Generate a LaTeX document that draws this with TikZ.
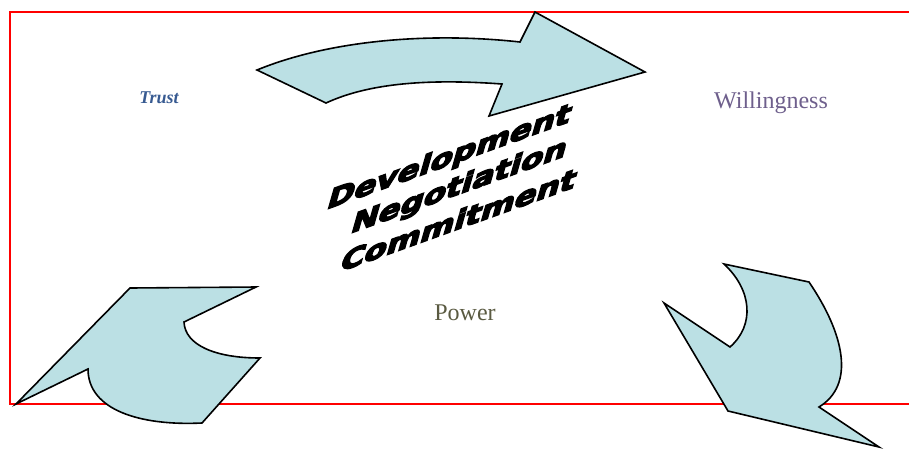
\documentclass[tikz,border=0pt]{standalone}
\usepackage{fontspec}
\setmainfont{Liberation Serif}
\newfontfamily\heavyfont{DejaVu Sans}[BoldFeatures={FakeBold=5}]
\definecolor{arrowfill}{RGB}{187,224,228}
\definecolor{trustblue}{RGB}{55,90,145}
\definecolor{willpurple}{RGB}{110,95,140}
\definecolor{powerolive}{RGB}{90,90,65}
\tikzset{
  arrowshape/.style={fill=arrowfill, draw=black, line width=1.6pt, line join=miter},
  frameline/.style={draw=red, line width=2pt},
  label/.style={inner sep=0pt, anchor=base},
  wordart/.style={inner sep=0pt, anchor=base, transform shape,
    font=\heavyfont\bfseries\fontsize{27}{27}\selectfont,
    cm={1.2,0.432,0.3,1.05,(0,0)}}
}
\begin{document}
\begin{tikzpicture}[x=1pt,y=-1pt]
\useasboundingbox (0,0) rectangle (909,448);

% frame (open on the right, running off the page)
\draw[frameline] (909,12) -- (10,12) -- (10,404) -- (909,404);

% curved arrow along the top
\draw[arrowshape] (257,70) .. controls (330,40) and (430,32) .. (520,42)
  -- (535,12) -- (645,72) -- (489,116) -- (502,84)
  .. controls (420,78) and (365,85) .. (326,103) -- cycle;

% curved arrow at the lower left
\draw[arrowshape] (16,404) -- (130,288) -- (256,287) -- (184,322)
  .. controls (185,345) and (215,358) .. (260,358)
  -- (202,423) .. controls (140,426) and (88,410) .. (88,369) -- cycle;

% curved arrow at the lower right
\draw[arrowshape] (724,264) -- (809,282)
  .. controls (845,335) and (855,385) .. (819,407)
  -- (879,447) -- (728,411) -- (664,303) -- (730,347)
  .. controls (755,325) and (752,290) .. (724,264) -- cycle;

% labels
\node[label, text=trustblue, font=\bfseries\itshape\fontsize{18}{18}\selectfont] (trust) at (159,103) {Trust};
\node[label, text=willpurple, font=\fontsize{24}{24}\selectfont] (will) at (771,108) {Willingness};
\node[label, text=powerolive, font=\fontsize{24}{24}\selectfont] (power) at (465,320) {Power};

% slanted heavy lettering in the middle
\begin{scope}[shift={(447,166)}]
  \node[wordart] (dev) at (0,0) {Development};
\end{scope}
\begin{scope}[shift={(457,195)}]
  \node[wordart] (neg) at (0,0) {Negotiation};
\end{scope}
\begin{scope}[shift={(456,230)}]
  \node[wordart] (com) at (0,0) {Commitment};
\end{scope}
\end{tikzpicture}
\end{document}
